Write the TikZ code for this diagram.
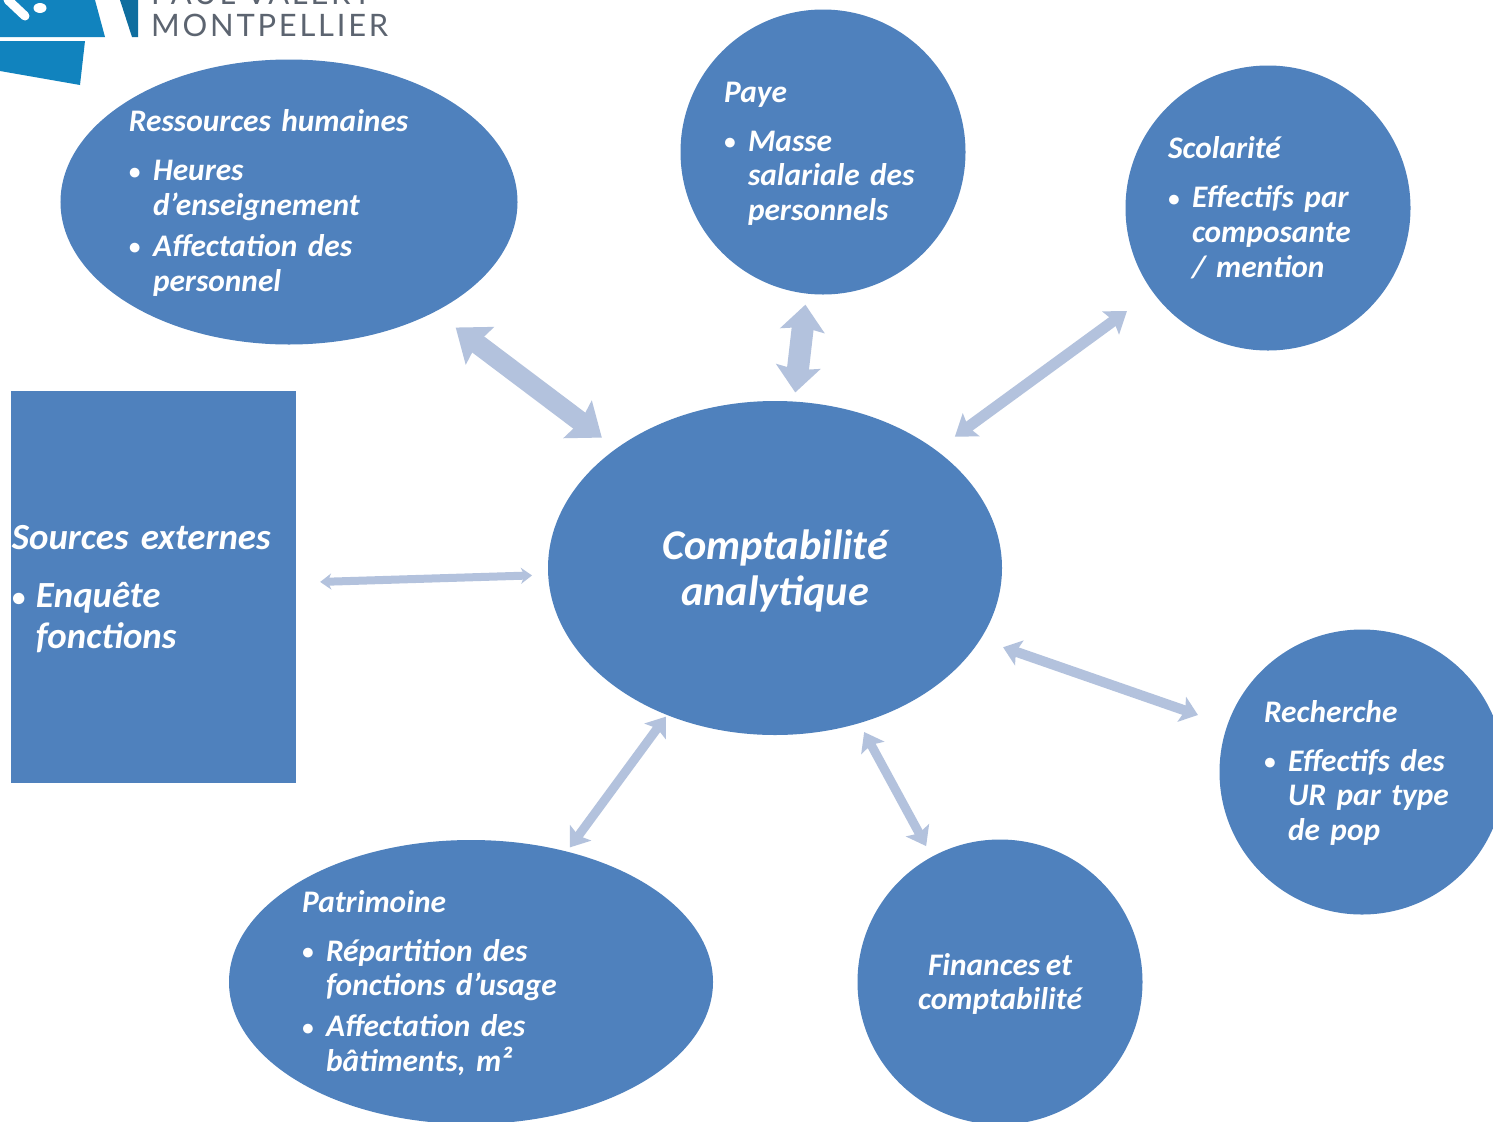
\documentclass[tikz,border=0pt]{standalone}
\usepackage{fontspec}
\setmainfont[WordSpace=0.8]{Carlito}
\newfontfamily\logofont[LetterSpace=9]{Lato}
\usetikzlibrary{arrows.meta,shapes.geometric}

\definecolor{bubbleblue}{HTML}{4F81BD}
\definecolor{linkblue}{HTML}{B3C2DD}
\definecolor{logoblue}{HTML}{1183BE}
\definecolor{logodark}{HTML}{0F6E9F}
\definecolor{logogrey}{HTML}{5C6470}

\newcommand{\itm}{\makebox[24bp][l]{\raisebox{1.5bp}{\fontsize{23}{23}\selectfont•}}}
\newcommand{\cont}{\hspace*{24bp}}
\newcommand{\pad}[1]{\rule{0pt}{#1bp}}

\tikzset{
  bubble/.style={ellipse,fill=bubbleblue,text=white,inner sep=0pt,align=left,
    font=\fontsize{31.5}{35}\selectfont\bfseries\itshape},
  link/.style n args={3}{draw=linkblue,line width=#1,
    {Stealth[width=#2,length=#3,inset=3.5bp,fill=linkblue]}-{Stealth[width=#2,length=#3,inset=3.5bp,fill=linkblue]}},
}

\begin{document}
\begin{tikzpicture}[x=1bp,y=-1bp]
  \clip (0,0) rectangle (1493,1121);
  \fill[white] (0,0) rectangle (1493,1121);

  % logo
  \fill[logoblue] (0,0) -- (95,0) -- (105,37) -- (0,37) -- cycle;
  \fill[logodark] (120,0) -- (138,0) -- (138,37) -- (132,37) -- cycle;
  \fill[logoblue] (0,41) -- (85,41) -- (80,85) -- (0,71) -- cycle;
  \draw[white,line width=9bp,line cap=round] (8,0) -- (25,16);
  \fill[white] (40,8) ellipse (6.5bp and 5bp);
  \node[anchor=base west,inner sep=0pt,text=logogrey,font=\logofont\fontsize{31}{31}\selectfont] (montpellier) at (151,36) {MONTPELLIER};
  \begin{scope}
    \clip (140,0) rectangle (400,8);
    \node[anchor=base west,inner sep=0pt,text=logogrey,font=\logofont\fontsize{31}{31}\selectfont] (paulvalery) at (151,4) {PAUL VALÉRY};
  \end{scope}

  % bubbles
  \node[bubble,minimum width=457bp,minimum height=285bp,text width=320bp] (rh) at (289,202) {%
    \pad{24}Ressources humaines\\[14bp]
    \itm Heures\\
    \cont d’enseignement\\[6bp]
    \itm Affectation des\\
    \cont personnel};
  \node[bubble,minimum width=285bp,minimum height=285bp,text width=198bp] (paye) at (823,152) {%
    \pad{24}Paye\\[14bp]
    \itm Masse\\
    \cont salariale des\\
    \cont personnels};
  \node[bubble,minimum width=285bp,minimum height=285bp,text width=200bp] (scolarite) at (1268,208) {%
    Scolarité\\[14bp]
    \itm Effectifs par\\
    \cont composante\\
    \cont / mention};
  \node[bubble,minimum width=285bp,minimum height=285bp,text width=196bp] (recherche) at (1362,772) {%
    \pad{24}Recherche\\[14bp]
    \itm Effectifs des\\
    \cont UR par type\\
    \cont de pop};
  \node[bubble,minimum width=285bp,minimum height=285bp,align=center] (finances) at (1000,982) {%
    \pad{26}Finances et\\
    comptabilité};
  \node[bubble,minimum width=484bp,minimum height=284bp,text width=338bp] (patrimoine) at (471,982) {%
    \pad{24}Patrimoine\\[14bp]
    \itm Répartition des\\
    \cont fonctions d’usage\\[6bp]
    \itm Affectation des\\
    \cont bâtiments, m²};
  \node[bubble,minimum width=454bp,minimum height=334bp,align=center,
    font=\fontsize{42.5}{46}\selectfont\bfseries\itshape] (compta) at (775,568) {%
    \pad{36}Comptabilité\\
    analytique};
  \node[bubble,rectangle,minimum width=285bp,minimum height=392bp,text width=283bp,
    font=\fontsize{37}{41}\selectfont\bfseries\itshape] (sources) at (153.5,587) {%
    \pad{28}Sources externes\\[18bp]
    \makebox[24bp][l]{\raisebox{1.5bp}{\fontsize{27}{27}\selectfont•}}Enquête\\
    \cont fonctions};

  % links
  \foreach \from/\to/\wid/\headw/\headl/\gapa/\gapb in {
    rh/compta/20bp/46bp/30bp/26bp/18bp,
    paye/compta/22bp/44bp/26bp/11bp/9bp,
    scolarite/compta/11bp/28bp/20bp/32bp/23bp,
    sources/compta/8bp/16bp/11bp/24bp/16bp,
    recherche/compta/10bp/26bp/17bp/31bp/24bp,
    finances/compta/9bp/26bp/18bp/12bp/10bp,
    patrimoine/compta/9bp/26bp/18bp/5bp/2bp} {
    \draw[link={\wid}{\headw}{\headl},shorten <=\gapa,shorten >=\gapb] (\from) -- (\to);
  }
\end{tikzpicture}
\end{document}
